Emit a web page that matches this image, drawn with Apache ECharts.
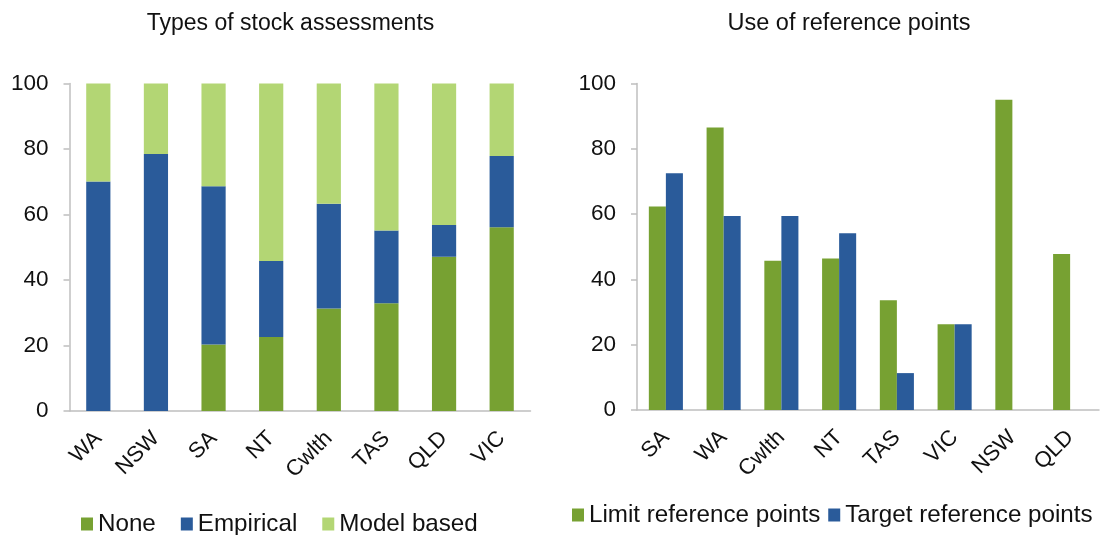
<!DOCTYPE html>
<html>
<head>
<meta charset="utf-8">
<script src="https://cdn.jsdelivr.net/npm/echarts@6/dist/echarts.min.js"></script>
<style>
  html, body { margin: 0; padding: 0; background: #fff; }
  #main { width: 1103px; height: 535px; }
</style>
</head>
<body>
<div id="main"></div>
<script>
// left panel: types of stock assessments (%)
const typeStates = ['WA', 'NSW', 'SA', 'NT', 'Cwlth', 'TAS', 'QLD', 'VIC'];
const noneVals = [0, 0, 20.3, 22.6, 31.3, 32.9, 47.1, 56.1];
const empiricalVals = [70.1, 78.5, 48.3, 23.2, 32.0, 22.2, 9.7, 21.8];
const modelVals = [29.9, 21.5, 31.4, 54.2, 36.7, 44.9, 43.2, 22.1];

// right panel: use of reference points (%)
const refStates = ['SA', 'WA', 'Cwlth', 'NT', 'TAS', 'VIC', 'NSW', 'QLD'];
const limitVals = [62.3, 86.5, 45.7, 46.4, 33.6, 26.3, 95.0, 47.8];
const targetVals = [72.5, 59.4, 59.4, 54.1, 11.3, 26.3, null, null];

const yTicks = [0, 20, 40, 60, 80, 100];

const DARK_GREEN = '#77A132';
const BLUE = '#2A5B9A';
const LIGHT_GREEN = '#B3D674';
const FONT = 'Liberation Sans, Arial, sans-serif';

const myChart = echarts.init(document.getElementById('main'));

function yAxis(gridIndex) {
  return {
    type: 'value',
    gridIndex: gridIndex,
    min: yTicks[0],
    max: yTicks[yTicks.length - 1],
    interval: yTicks[1] - yTicks[0],
    splitLine: { show: false },
    axisLine: { show: true, lineStyle: { color: '#BFBFBF', width: 1.5 } },
    axisTick: { show: true, length: 6, lineStyle: { color: '#BFBFBF', width: 1.5 } },
    axisLabel: { fontSize: 22.5, color: '#111', fontFamily: FONT, margin: 21 }
  };
}

function xAxis(gridIndex, data) {
  return {
    type: 'category',
    gridIndex: gridIndex,
    data: data,
    axisLine: { lineStyle: { color: '#BFBFBF', width: 1.5 } },
    axisTick: { show: false },
    axisLabel: { rotate: 45, fontSize: 22, color: '#111', fontFamily: FONT, margin: 24, interval: 0 }
  };
}

const option = {
  animation: false,
  backgroundColor: '#fff',
  textStyle: { fontFamily: FONT },
  title: [
    { text: 'Types of stock assessments', left: 285.5, top: 7, textAlign: 'center',
      textStyle: { fontSize: 23, fontWeight: 'normal', color: '#111', fontFamily: FONT } },
    { text: 'Use of reference points', left: 844, top: 7, textAlign: 'center',
      textStyle: { fontSize: 23.5, fontWeight: 'normal', color: '#111', fontFamily: FONT } }
  ],
  legend: [
    {
      data: ['None', 'Empirical', 'Model based'],
      left: 81, top: 512, padding: 0,
      itemWidth: 12, itemHeight: 13, itemGap: 25, icon: 'rect',
      textStyle: { fontSize: 24.2, color: '#111', fontFamily: FONT }
    },
    {
      data: ['Limit reference points', 'Target reference points'],
      left: 572, top: 503, padding: 0,
      itemWidth: 12, itemHeight: 13, itemGap: 8, icon: 'rect',
      textStyle: { fontSize: 24.2, color: '#111', fontFamily: FONT }
    }
  ],
  grid: [
    { left: 69.5, right: 572.5, top: 83.5, bottom: 124 },
    { left: 637, right: 4, top: 83.5, bottom: 125 }
  ],
  xAxis: [xAxis(0, typeStates), xAxis(1, refStates)],
  yAxis: [yAxis(0), yAxis(1)],
  series: [
    { name: 'None', type: 'bar', stack: 'types', xAxisIndex: 0, yAxisIndex: 0,
      barWidth: '42%', data: noneVals, itemStyle: { color: DARK_GREEN } },
    { name: 'Empirical', type: 'bar', stack: 'types', xAxisIndex: 0, yAxisIndex: 0,
      barWidth: '42%', data: empiricalVals, itemStyle: { color: BLUE } },
    { name: 'Model based', type: 'bar', stack: 'types', xAxisIndex: 0, yAxisIndex: 0,
      barWidth: '42%', data: modelVals, itemStyle: { color: LIGHT_GREEN } },
    { name: 'Limit reference points', type: 'bar', xAxisIndex: 1, yAxisIndex: 1,
      barWidth: '29.5%', barGap: '0%', data: limitVals, itemStyle: { color: DARK_GREEN } },
    { name: 'Target reference points', type: 'bar', xAxisIndex: 1, yAxisIndex: 1,
      barWidth: '29.5%', barGap: '0%', data: targetVals, itemStyle: { color: BLUE } }
  ]
};

myChart.setOption(option);
</script>
</body>
</html>
